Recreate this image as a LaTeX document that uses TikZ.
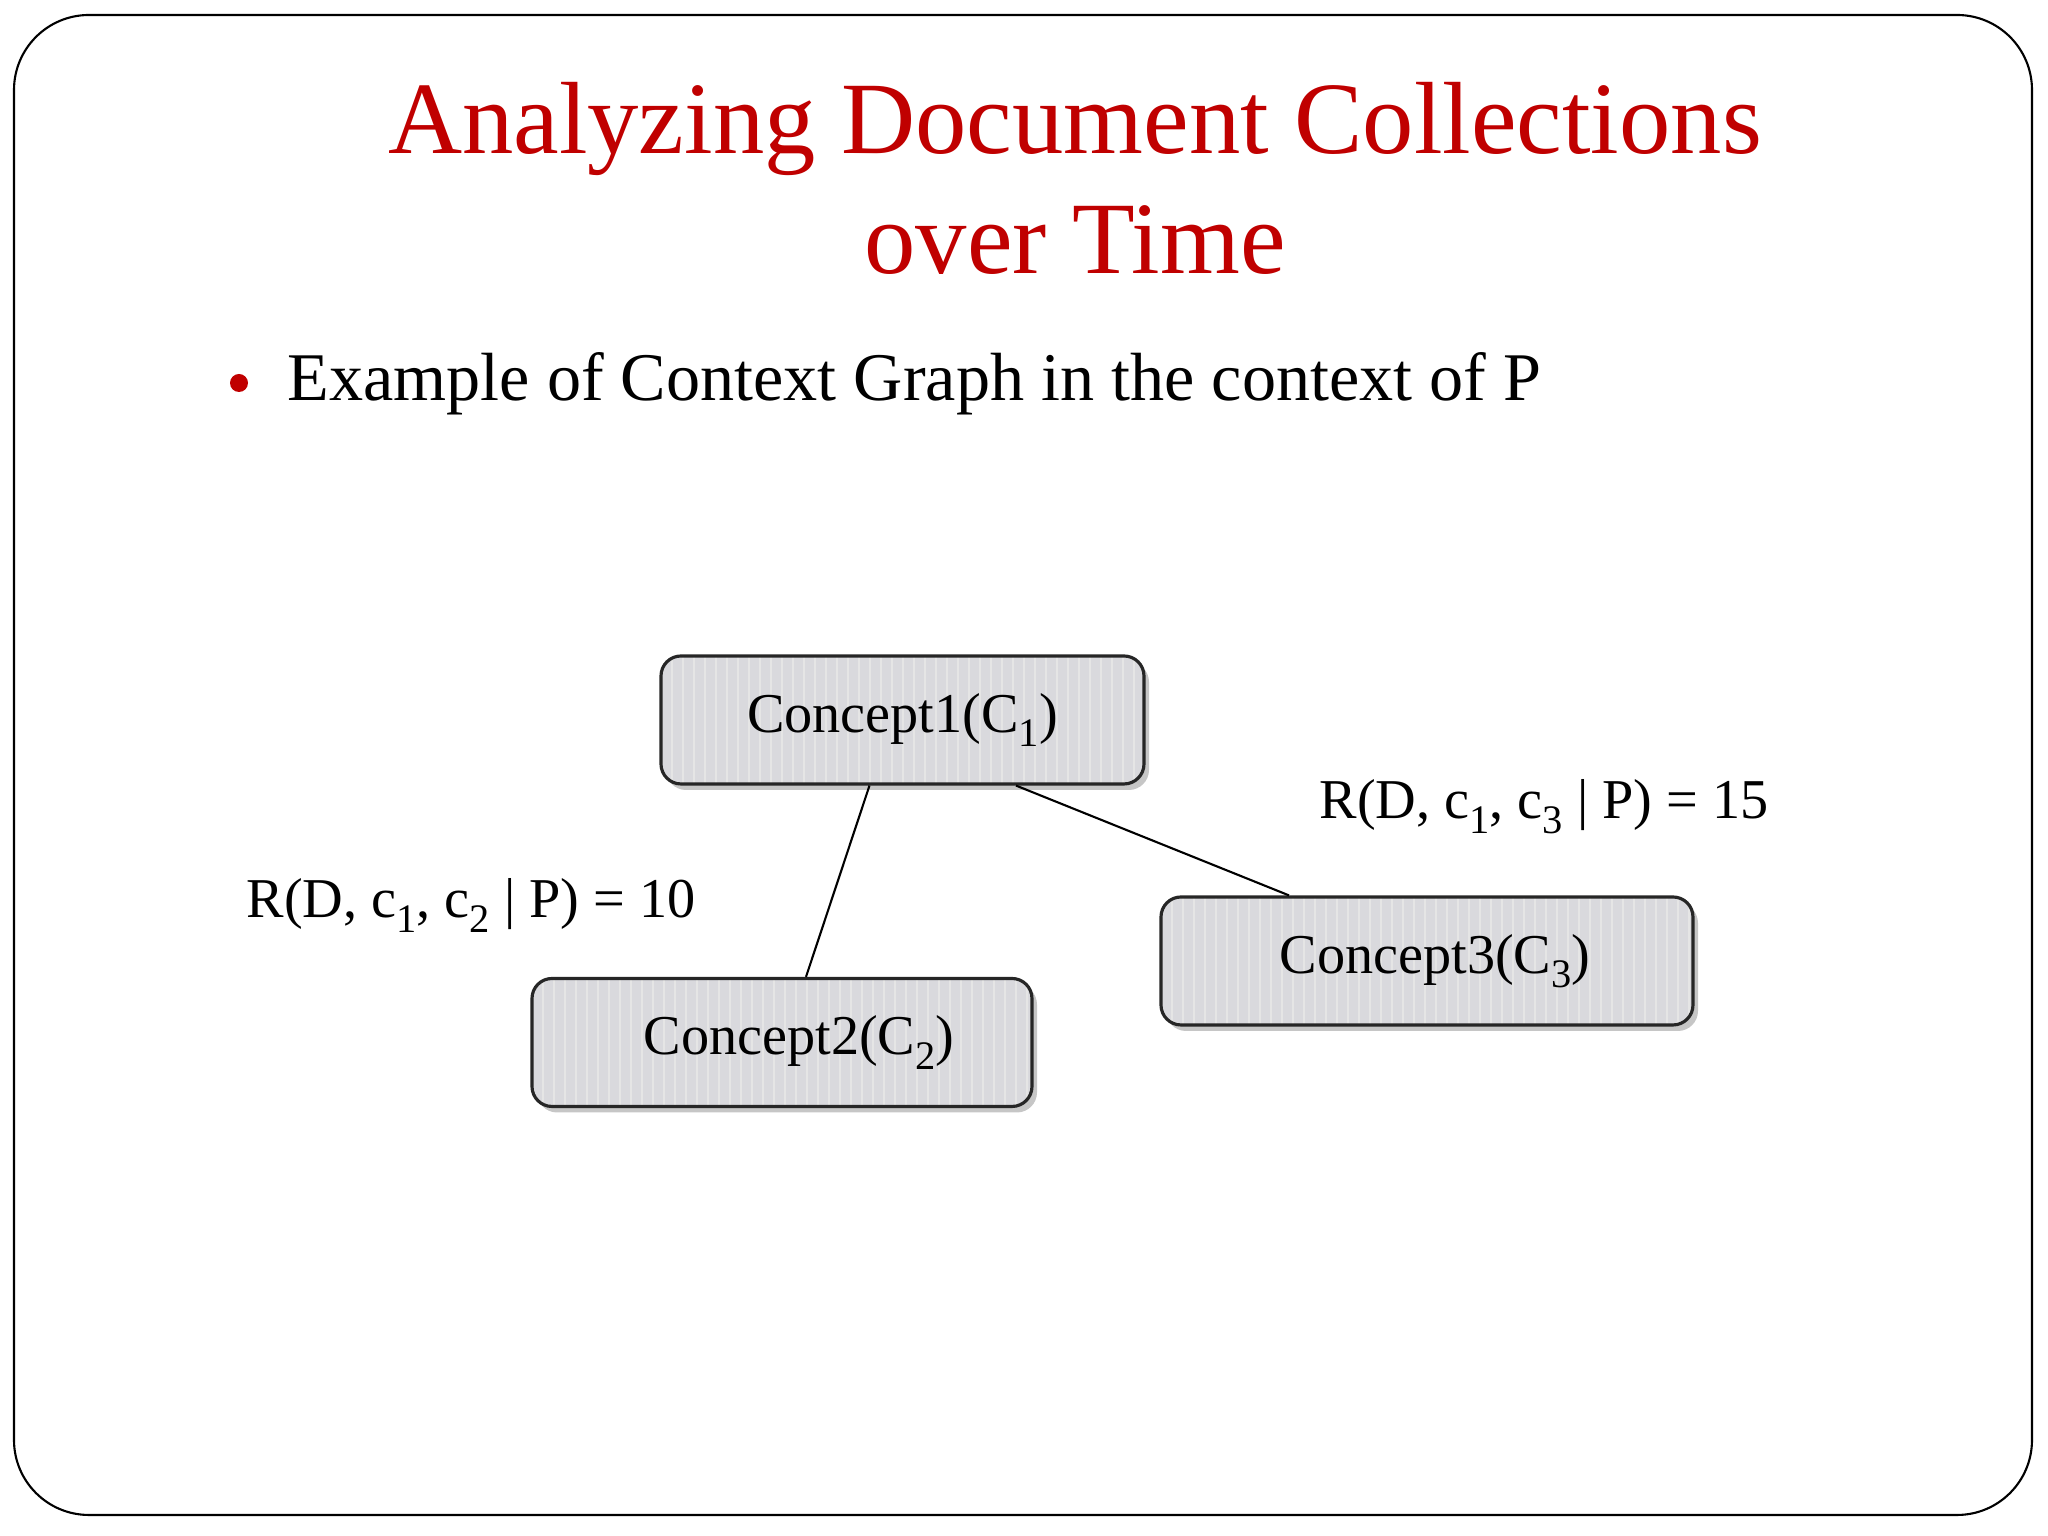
\documentclass[tikz,border=0pt]{standalone}
\usepackage{fontspec}
\setmainfont{Liberation Serif}
\usepackage{xcolor}
\usepackage{graphicx}
\usetikzlibrary{positioning,calc,shadows}

\definecolor{titlered}{HTML}{C00000}
\definecolor{boxgray}{HTML}{D9D9DD}

\newcommand{\lowsub}[1]{\raisebox{-0.55ex}{\scalebox{0.72}{#1}}}

\tikzset{
    concept/.style={draw=black!85, line width=0.9pt, rounded corners=0.2cm,
        fill=boxgray, minimum height=1.28cm, font=\fontsize{16}{19}\selectfont,
        drop shadow={shadow xshift=0.05cm, shadow yshift=-0.06cm, opacity=0.45},
        path picture={
            \foreach \k in {0,...,50}
                \draw[white!80!gray, line width=0.7pt]
                    ([xshift=\k*0.11cm]path picture bounding box.south west) --
                    ([xshift=\k*0.11cm]path picture bounding box.north west);
        }},
    relation/.style={inner sep=0pt, anchor=base west, font=\fontsize{16}{19}\selectfont},
    link/.style={draw=black, line width=0.6pt}
}

\begin{document}
\begin{tikzpicture}
    \useasboundingbox (0,0) rectangle (20.48,15.36);
    \draw[line width=0.6pt, rounded corners=0.75cm] (0.14,0.21) rectangle (20.32,15.21);

    % base of a two-line node is its last line
    \node[inner sep=0pt, anchor=base, text=titlered, align=center,
        font=\fontsize{29.2}{34.4}\selectfont] (title) at (10.75,12.62)
        {Analyzing Document Collections\\over Time};

    \fill[titlered] (2.39,11.53) circle (0.09);
    \node[inner sep=0pt, anchor=base west, font=\fontsize{19.4}{23}\selectfont] (point) at (2.87,11.35)
        {Example of Context Graph in the context of P};

    \node[concept, minimum width=4.83cm] (c1) at (9.025,8.16) {Concept1(C\lowsub{1})};
    \node[concept, minimum width=5.00cm] (c2) at (7.82,4.935) {\hspace*{0.34cm}Concept2(C\lowsub{2})};
    \node[concept, minimum width=5.32cm] (c3) at (14.27,5.75) {\hspace*{0.16cm}Concept3(C\lowsub{3})};

    \draw[link] ([xshift=-0.33cm]c1.south) -- ([xshift=0.24cm]c2.north);
    \draw[link] ([xshift=1.135cm]c1.south) -- ([xshift=-1.38cm]c3.north);

    \node[relation] (r12) at (2.46,6.18) {R(D, c\lowsub{1}, c\lowsub{2} | P) = 10};
    \node[relation] (r13) at (13.19,7.17) {R(D, c\lowsub{1}, c\lowsub{3} | P) = 15};
\end{tikzpicture}
\end{document}
